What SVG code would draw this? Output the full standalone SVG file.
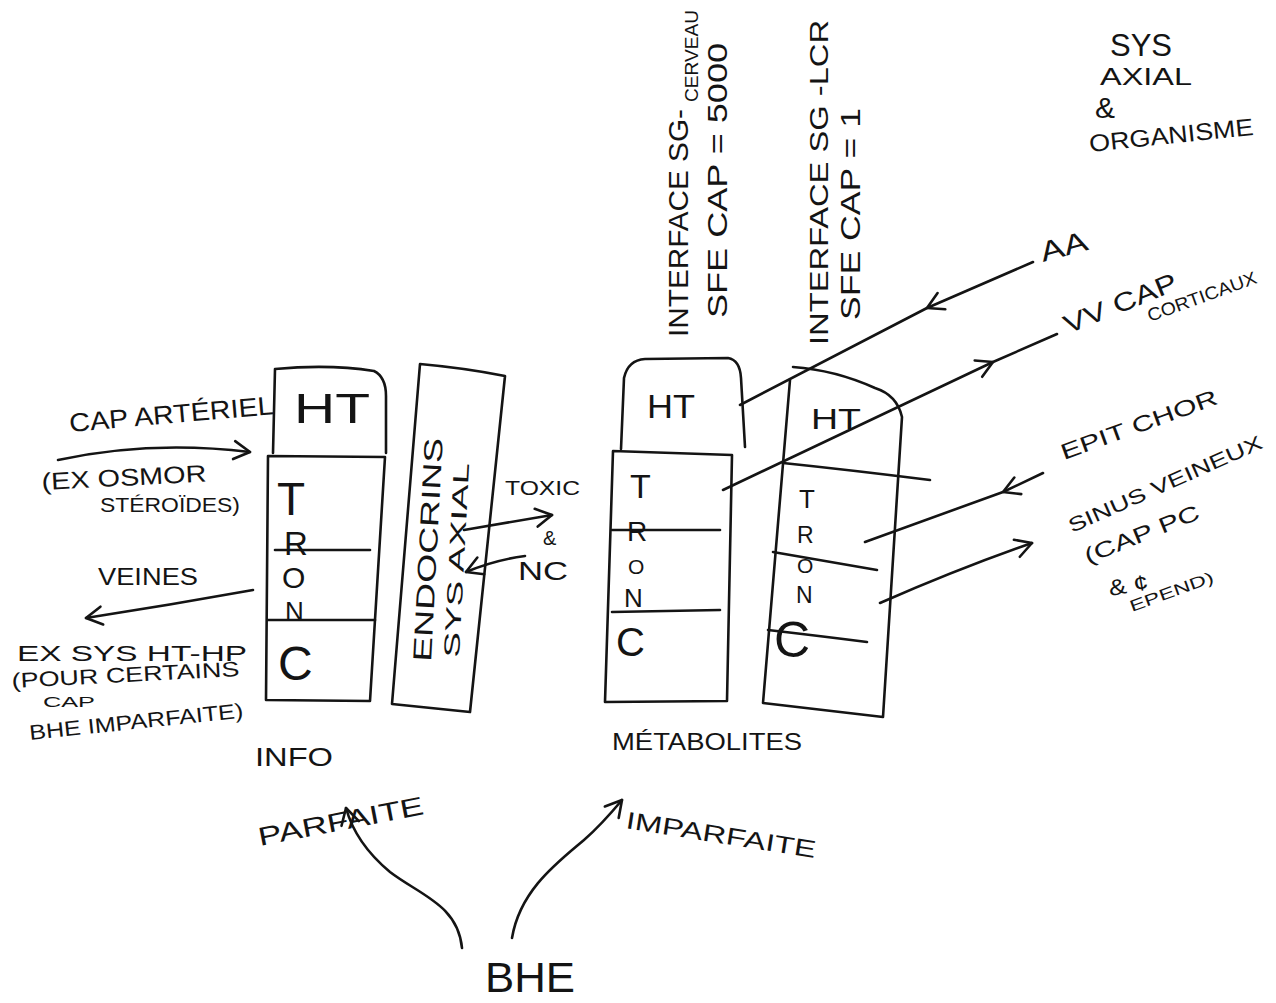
<svg xmlns="http://www.w3.org/2000/svg" width="1276" height="1003" viewBox="0 0 1276 1003">
<style>
.s{fill:none;stroke:#141414;stroke-width:2.6;stroke-linecap:round;stroke-linejoin:round}
.t{font-family:"Liberation Sans",Arial,sans-serif;fill:#141414}
.b{font-family:"Liberation Sans",Arial,sans-serif;fill:#141414}
</style>
<defs>
<marker id="ah" viewBox="-20 -12 24 24" markerWidth="24" markerHeight="24" refX="0" refY="0" orient="auto" markerUnits="userSpaceOnUse" overflow="visible">
<path d="M-16,-9 L0,0 L-16,9" fill="none" stroke="#141414" stroke-width="2.6" stroke-linecap="round" stroke-linejoin="round"/>
</marker>
</defs>
<rect width="1276" height="1003" fill="#ffffff"/>

<g id="node-info">
<path class="s" d="M273,453 L275,369 Q330,364 374,371 Q386,377 386,396 L386,453"/>
<path class="s" d="M268,456 L385,457 L370,701 L266,700 Z"/>
<path class="s" d="M275,550 L370,550"/>
<path class="s" d="M268,620 L375,620"/>
<text class="b" x="294" y="423" textLength="76" lengthAdjust="spacingAndGlyphs" font-size="42">HT</text>
<text class="b"><tspan x="277" y="515" font-size="46">T</tspan><tspan x="284" y="555" font-size="33">R</tspan><tspan x="282" y="588" font-size="30">O</tspan><tspan x="285" y="620" font-size="26">N</tspan><tspan x="278" y="680" font-size="48">C</tspan></text>
<text class="t" x="255" y="766" textLength="78" lengthAdjust="spacingAndGlyphs" font-size="26">INFO</text>
</g>

<g id="node-axial">
<path class="s" d="M420,364 Q465,368 505,376 L470,712 L392,704 Z"/>
<text class="t" transform="translate(431,662) rotate(-87)" textLength="224" lengthAdjust="spacingAndGlyphs" font-size="26">ENDOCRINS</text>
<text class="t" transform="translate(459,658) rotate(-87)" textLength="195" lengthAdjust="spacingAndGlyphs" font-size="22">SYS AXIAL</text>
</g>

<g id="node-metabolites">
<path class="s" d="M621,449 L624,378 Q628,360 645,359 L728,358 Q740,360 741,378 L745,447"/>
<path class="s" d="M613,451 L732,455 L727,701 L605,702 Z"/>
<path class="s" d="M612,530 L720,530"/>
<path class="s" d="M612,612 L720,610"/>
<text class="b" x="647" y="418" textLength="48" lengthAdjust="spacingAndGlyphs" font-size="33">HT</text>
<text class="b"><tspan x="630" y="498" font-size="34">T</tspan><tspan x="627" y="541" font-size="28">R</tspan><tspan x="628" y="574" font-size="21">O</tspan><tspan x="624" y="607" font-size="26">N</tspan><tspan x="616" y="656" font-size="40">C</tspan></text>
<text class="t" x="612" y="750" textLength="190" lengthAdjust="spacingAndGlyphs" font-size="24">MÉTABOLITES</text>
</g>

<g id="node-right">
<path class="s" d="M790,380 L763,703 L883,717 L902,417 Q897,395 875,388 Q835,370 793,367"/>
<path class="s" d="M783,463 Q850,470 930,480"/>
<path class="s" d="M773,552 Q820,560 877,570"/>
<path class="s" d="M768,630 Q820,636 867,642"/>
<text class="b" x="811" y="429" textLength="50" lengthAdjust="spacingAndGlyphs" font-size="30">HT</text>
<text class="b"><tspan x="799" y="508" font-size="26">T</tspan><tspan x="797" y="543" font-size="23">R</tspan><tspan x="797" y="573" font-size="21">O</tspan><tspan x="796" y="603" font-size="23">N</tspan><tspan x="774" y="657" font-size="50">C</tspan></text>
</g>

<g id="connectors">
<path class="s" d="M58,460 Q150,440 250,452" marker-end="url(#ah)"/>
<path class="s" d="M253,590 Q170,605 86,618" marker-end="url(#ah)"/>
<path class="s" d="M464,530 L552,515" marker-end="url(#ah)"/>
<path class="s" d="M525,556 Q495,560 466,572" marker-end="url(#ah)"/>
<path class="s" d="M1033,262 L927,308 L740,405" marker-mid="url(#ah)"/>
<path class="s" d="M723,490 L993,362 L1057,334" marker-mid="url(#ah)"/>
<path class="s" d="M1043,473 L1003,492 L865,542" marker-mid="url(#ah)"/>
<path class="s" d="M880,603 Q960,568 1032,543" marker-end="url(#ah)"/>
<path class="s" d="M462,948 C458,905 420,895 390,872 C366,852 352,830 346,808" marker-end="url(#ah)"/>
<path class="s" d="M512,938 C520,890 558,862 584,840 C600,826 612,812 622,800" marker-end="url(#ah)"/>
</g>

<g id="labels">
<text class="t" transform="translate(70,432) rotate(-5)" textLength="205" lengthAdjust="spacingAndGlyphs" font-size="26">CAP ARTÉRIEL</text>
<text class="t" transform="translate(42,490) rotate(-3)" textLength="165" lengthAdjust="spacingAndGlyphs" font-size="24">(EX OSMOR</text>
<text class="t" x="100" y="512" textLength="140" lengthAdjust="spacingAndGlyphs" font-size="20">STÉROÏDES)</text>
<text class="t" x="98" y="585" textLength="100" lengthAdjust="spacingAndGlyphs" font-size="24">VEINES</text>
<text class="t" x="17" y="661" textLength="230" lengthAdjust="spacingAndGlyphs" font-size="22">EX SYS HT-HP</text>
<text class="t" transform="translate(12,688) rotate(-3)" textLength="228" lengthAdjust="spacingAndGlyphs" font-size="21">(POUR CERTAINS</text>
<text class="t" x="43" y="707" textLength="52" lengthAdjust="spacingAndGlyphs" font-size="14">CAP</text>
<text class="t" transform="translate(30,740) rotate(-6)" textLength="215" lengthAdjust="spacingAndGlyphs" font-size="21">BHE IMPARFAITE)</text>

<text class="t" x="505" y="495" textLength="75" lengthAdjust="spacingAndGlyphs" font-size="20">TOXIC</text>
<text class="t" x="543" y="545" font-size="20">&amp;</text>
<text class="t" x="518" y="580" textLength="50" lengthAdjust="spacingAndGlyphs" font-size="26">NC</text>

<text class="t" transform="translate(688,337) rotate(-90)" textLength="228" lengthAdjust="spacingAndGlyphs" font-size="28">INTERFACE SG-</text>
<text class="t" transform="translate(698,102) rotate(-90)" textLength="92" lengthAdjust="spacingAndGlyphs" font-size="18">CERVEAU</text>
<text class="t" transform="translate(727,318) rotate(-90)" textLength="275" lengthAdjust="spacingAndGlyphs" font-size="28">SFE CAP = 5000</text>
<text class="t" transform="translate(828,345) rotate(-90)" textLength="325" lengthAdjust="spacingAndGlyphs" font-size="26">INTERFACE SG -LCR</text>
<text class="t" transform="translate(860,320) rotate(-90)" textLength="212" lengthAdjust="spacingAndGlyphs" font-size="28">SFE CAP = 1</text>

<text class="t" x="1110" y="56" textLength="62" lengthAdjust="spacingAndGlyphs" font-size="32">SYS</text>
<text class="t" x="1100" y="85" textLength="92" lengthAdjust="spacingAndGlyphs" font-size="24">AXIAL</text>
<text class="t" x="1095" y="118" font-size="30">&amp;</text>
<text class="t" transform="translate(1090,152) rotate(-6)" textLength="165" lengthAdjust="spacingAndGlyphs" font-size="24">ORGANISME</text>

<text class="t" transform="translate(1043,262) rotate(-15)" textLength="48" lengthAdjust="spacingAndGlyphs" font-size="28">AA</text>
<text class="t" transform="translate(1068,334) rotate(-22)" textLength="120" lengthAdjust="spacingAndGlyphs" font-size="26">VV CAP</text>
<text class="t" transform="translate(1150,322) rotate(-20)" textLength="115" lengthAdjust="spacingAndGlyphs" font-size="18">CORTICAUX</text>
<text class="t" transform="translate(1064,460) rotate(-20)" textLength="165" lengthAdjust="spacingAndGlyphs" font-size="22">EPIT CHOR</text>
<text class="t" transform="translate(1072,533) rotate(-24)" textLength="210" lengthAdjust="spacingAndGlyphs" font-size="20">SINUS VEINEUX</text>
<text class="t" transform="translate(1088,564) rotate(-22)" textLength="122" lengthAdjust="spacingAndGlyphs" font-size="22">(CAP PC</text>
<text class="t" transform="translate(1110,596) rotate(-10)" textLength="40" lengthAdjust="spacingAndGlyphs" font-size="22">&amp; ¢</text>
<text class="t" transform="translate(1132,612) rotate(-20)" textLength="88" lengthAdjust="spacingAndGlyphs" font-size="16">EPEND)</text>

<text class="t" transform="translate(260,846) rotate(-11)" textLength="168" lengthAdjust="spacingAndGlyphs" font-size="26">PARFAITE</text>
<text class="t" transform="translate(625,828) rotate(9)" textLength="192" lengthAdjust="spacingAndGlyphs" font-size="24">IMPARFAITE</text>
<text class="t" x="485" y="992" textLength="90" lengthAdjust="spacingAndGlyphs" font-size="42">BHE</text>
</g>
</svg>
